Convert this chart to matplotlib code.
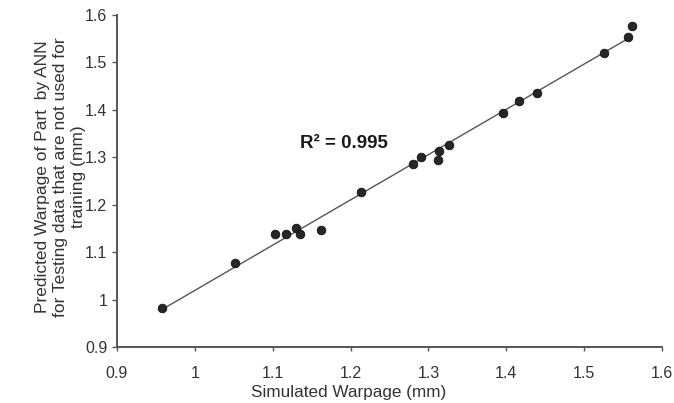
import numpy as np
import matplotlib
matplotlib.use("Agg")
import matplotlib.pyplot as plt

plt.rcParams["font.family"] = ["Liberation Sans", "DejaVu Sans"]

# simulated vs ANN-predicted warpage (mm)
simulated_l = [0.958, 1.051, 1.103, 1.117, 1.130, 1.135, 1.162, 1.213,
               1.280, 1.290, 1.312, 1.314, 1.327, 1.396, 1.416, 1.440,
               1.526, 1.556, 1.561]
predicted_l = [0.983, 1.078, 1.138, 1.138, 1.150, 1.138, 1.147, 1.226,
               1.285, 1.300, 1.294, 1.314, 1.325, 1.393, 1.419, 1.435,
               1.520, 1.553, 1.577]
ticks_l = [0.9, 1.0, 1.1, 1.2, 1.3, 1.4, 1.5, 1.6]
tick_labels_l = ["0.9", "1", "1.1", "1.2", "1.3", "1.4", "1.5", "1.6"]
r2_s = "R\u00b2 = 0.995"

x_a = np.array(simulated_l)
y_a = np.array(predicted_l)

fig = plt.figure(figsize=(6.74, 4.03), dpi=100)
ax = fig.add_axes([117 / 674, 1 - 347 / 403, 545 / 674, 332 / 403])

# trend line
slope_f, icpt_f = np.polyfit(x_a, y_a, 1)
line_x = np.array([x_a.min(), x_a.max()])
ax.plot(line_x, slope_f * line_x + icpt_f, color="#555555", lw=1.0, zorder=2)

ax.plot(x_a, y_a, "o", ms=6.2, color="#262626", mec="#111111", mew=0.6,
        zorder=3)

ax.text(1.135, 1.33, r2_s, fontsize=13.5, fontweight="bold",
        color="#1a1a1a", ha="left", va="center")

ax.set_xlim(0.9, 1.6)
ax.set_ylim(0.9, 1.6)
ax.set_xticks(ticks_l, tick_labels_l)
ax.set_yticks(ticks_l, tick_labels_l)

for side_s in ["top", "right"]:
    ax.spines[side_s].set_visible(False)
for side_s in ["left", "bottom"]:
    ax.spines[side_s].set_color("#555555")
    ax.spines[side_s].set_linewidth(1.4)

ax.tick_params(axis="x", direction="out", length=3, width=1, color="#555555",
               pad=11, labelsize=11.5, labelcolor="#333333")
ax.tick_params(axis="y", direction="out", length=3.6, width=1, color="#555555",
               pad=3.5, labelsize=11.5, labelcolor="#333333")

fig.text(349 / 674, 1 - 392 / 403, "Simulated Warpage (mm)", fontsize=12.3,
         color="#333333", ha="center", va="center")
fig.text(61 / 674, 1 - 177 / 403,
         "Predicted Warpage of Part  by ANN\nfor Testing data that are not used for\ntraining (mm)",
         fontsize=12.5, color="#333333", rotation=90, ha="center", va="center",
         multialignment="center", linespacing=1.25)

fig.savefig("out.png", dpi=100)
plt.close(fig)
